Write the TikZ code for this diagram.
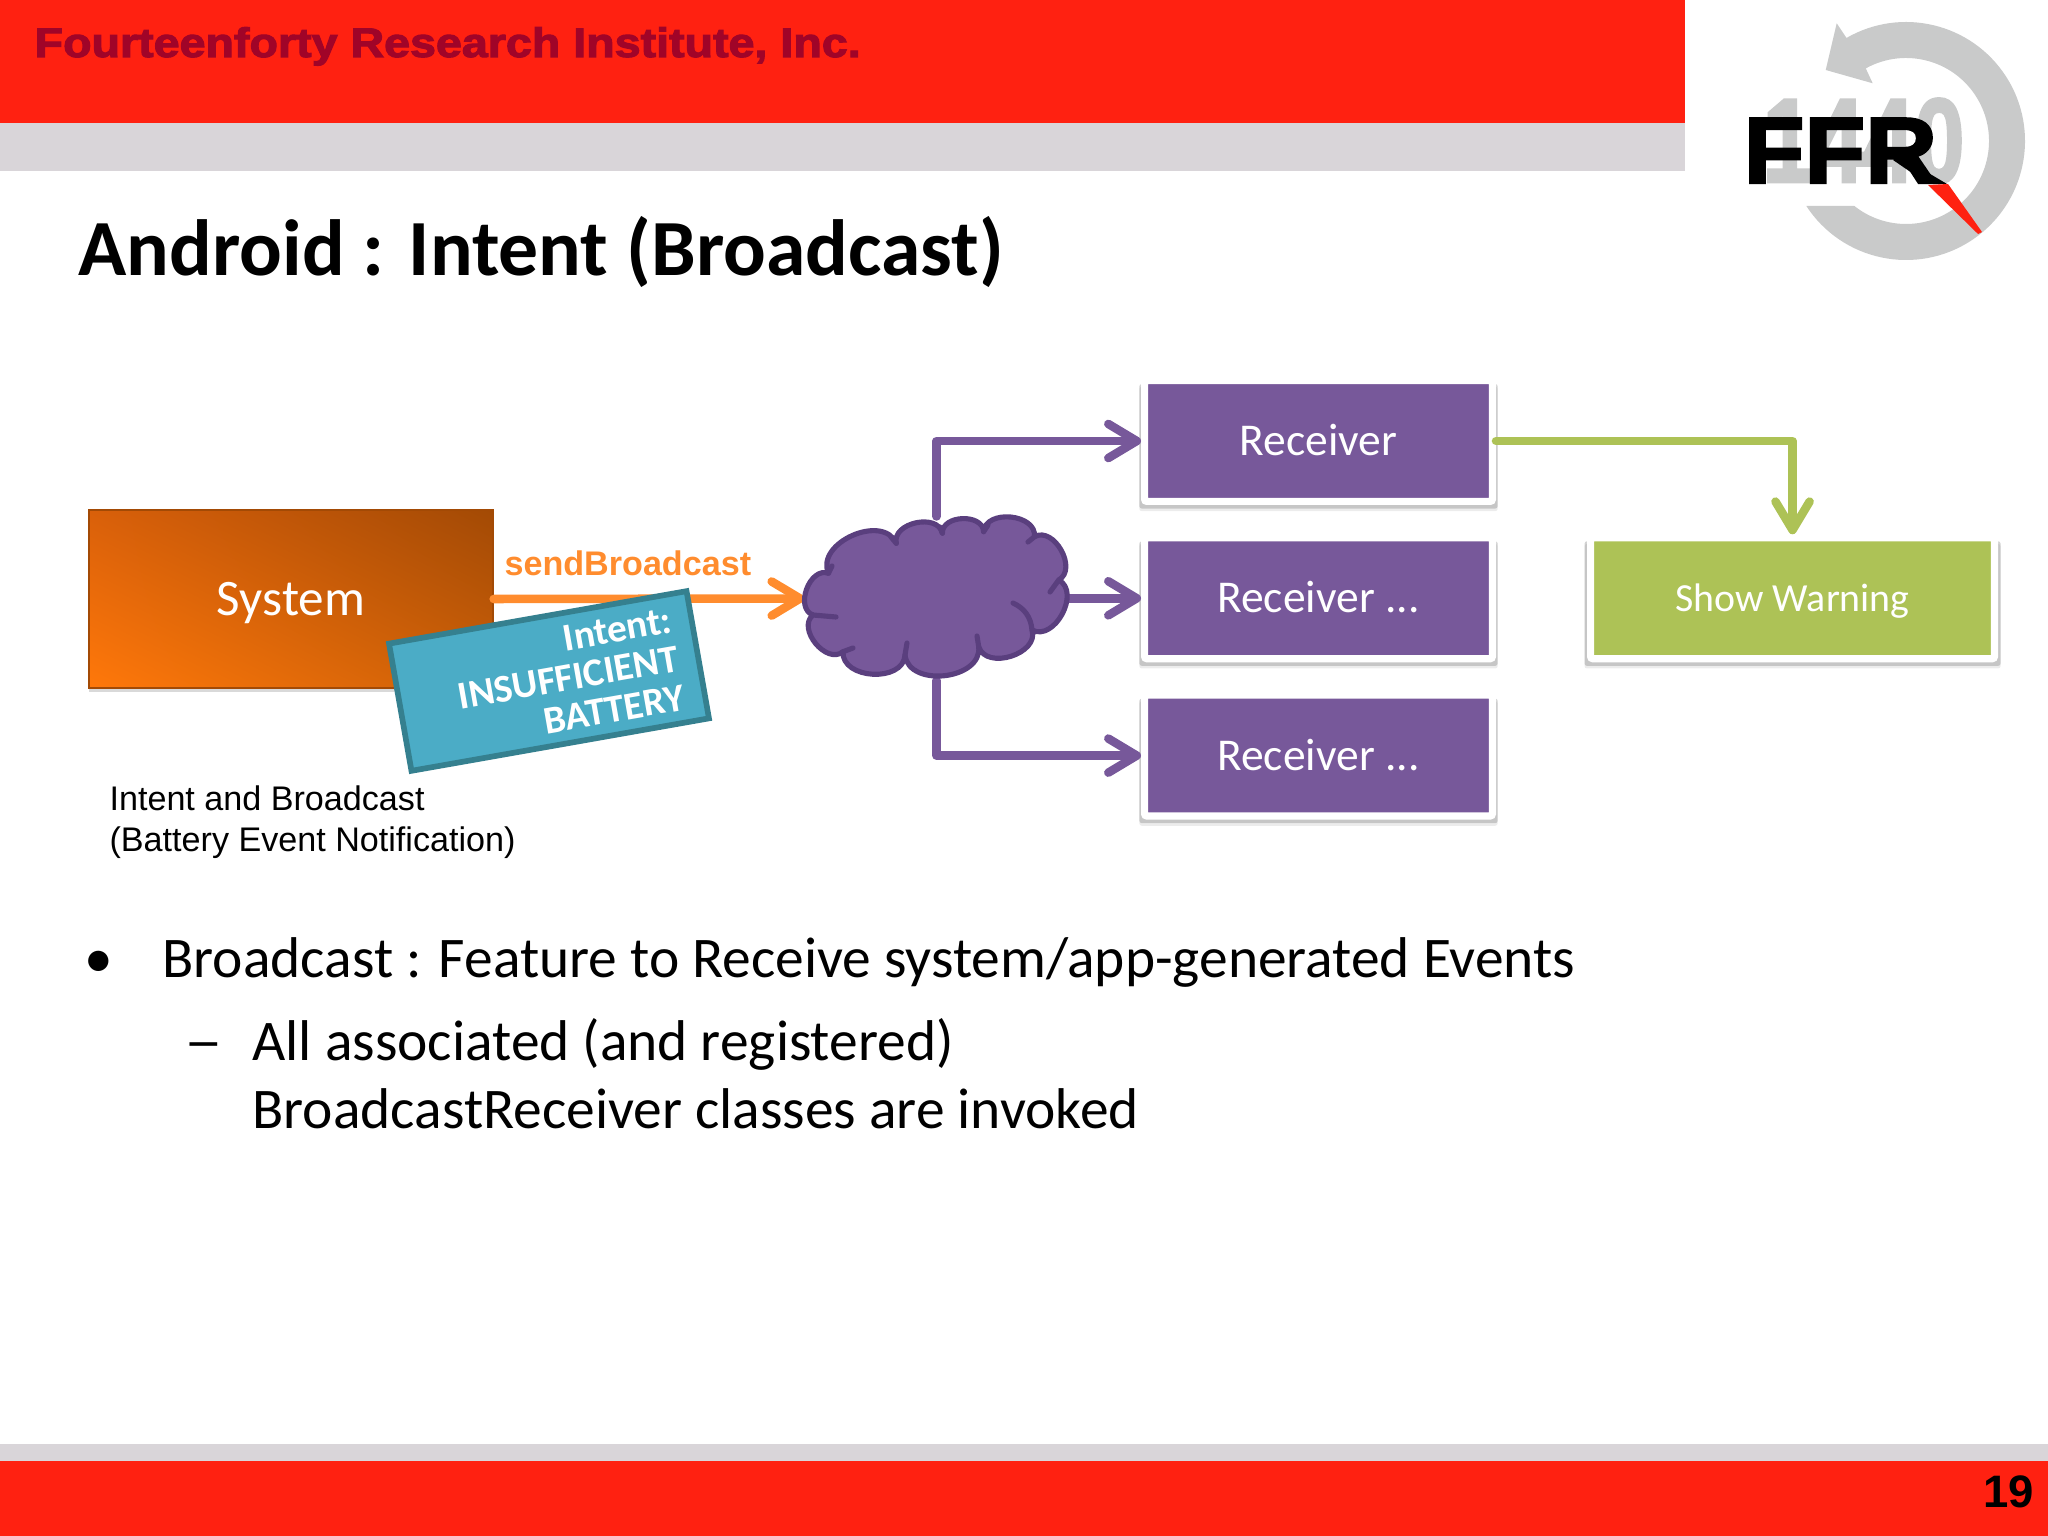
\documentclass[tikz,border=0pt]{standalone}
\usepackage{fontspec}
\setmainfont{Carlito}
\newfontfamily\arialfont{Liberation Sans}
\newfontfamily\heavyfont[FakeBold=2.5]{Liberation Sans Bold}
\usetikzlibrary{arrows.meta,positioning,calc,shadows,shadings}
\definecolor{barred}{HTML}{FF2111}
\definecolor{bargray}{HTML}{D9D5D9}
\definecolor{headred}{HTML}{A00428}
\definecolor{viola}{HTML}{77589A}
\definecolor{violadark}{HTML}{5A3F7E}
\definecolor{verde}{HTML}{ADC256}
\definecolor{arancio}{HTML}{FF8C2E}
\definecolor{azzurro}{HTML}{4BACC6}
\definecolor{azzurrodark}{HTML}{35808F}
\definecolor{logogray}{HTML}{C9CACA}
\definecolor{sysul}{HTML}{D9600A}
\definecolor{sysur}{HTML}{A34A05}
\definecolor{sysll}{HTML}{FF780A}
\definecolor{syslr}{HTML}{CC6008}
\tikzset{main base/.style={text centered,text=white}, }
\tikzset{main card/.style={main base,rectangle,draw=white,line width=2.5pt,font=\fontsize{16}{19}\selectfont,
    minimum width=122.3pt,minimum height=42.5pt,text height=10.3pt,text depth=0pt,rounded corners=.8pt,
    drop shadow={shadow scale=1.03,shadow xshift=0pt,shadow yshift=-2.7pt,opacity=.15},
    drop shadow={shadow scale=1.03,shadow xshift=0pt,shadow yshift=-1.8pt,opacity=.35}}, }
\tikzset{main recv/.style={main card,fill=viola}, }
\tikzset{main warn/.style={main card,fill=verde,minimum width=142pt,text height=9pt,font=\fontsize{14}{17}\selectfont}, }
\tikzset{main sys/.style={main base,rectangle,draw=sysur,line width=.5pt,
    minimum width=142pt,minimum height=62.6pt,font=\fontsize{18}{22}\selectfont,text height=11.6pt,text depth=0pt,
    upper left=sysul,upper right=sysur,lower left=sysll,lower right=syslr,
    drop shadow={shadow xshift=0pt,shadow yshift=-1.4pt,opacity=.3}}, }
\tikzset{main intent/.style={main base,rectangle,fill=azzurro,draw=azzurrodark,line width=2pt,rotate=10,
    minimum width=106.2pt,minimum height=45.4pt,align=right,text width=92pt,
    font=\bfseries\fontsize{13.8}{13.8}\selectfont}, }
\tikzset{main cloud/.style={minimum width=92.5pt,minimum height=57.3pt,inner sep=0pt}, }
\tikzset{puff/.style={bend left=90,looseness=1.15}}
\tikzset{linea/.style={line width=3pt,line cap=round,line join=round,
    -{Straight Barb[length=10pt,width=12pt,round]}}}
\tikzset{linea viola/.style={linea,draw=viola}}
\tikzset{linea verde/.style={linea,draw=verde}}
\tikzset{linea arancio/.style={linea,draw=arancio}}
\tikzset{main plain/.style={anchor=base west,inner sep=0pt,text=black}, }
\begin{document}
\begin{tikzpicture}[x=0.3515625pt,y=-0.3515625pt]
 \useasboundingbox (0,0) rectangle (2048,1536);
 % bars
 \fill[barred] (0,0) rectangle (1685,123);
 \fill[bargray] (0,123) rectangle (1685,171);
 \fill[bargray] (0,1444) rectangle (2048,1461);
 \fill[barred] (0,1461) rectangle (2048,1536);
 % logo
 \fill[logogray] ([shift={(146.9:119)}]1906,141) arc[start angle=146.9,end angle=-120,radius=119]
   -- (1836.7,23.3) -- (1825.7,70) -- (1872.7,83.3) -- ([shift={(-119:83)}]1906,141)
   arc[start angle=-119,end angle=128.5,radius=83] -- cycle;
 \node[main plain,text=logogray,font=\heavyfont\fontsize{42}{42}\selectfont,xscale=.76] (l1) at (1762,182) {1440};
 \node[main plain,font=\heavyfont\fontsize{33}{33}\selectfont,xscale=1.06] (l2) at (1743,183) {FFR};
 \fill[black] (1898,155) -- (1947,184) -- (1928,184) -- (1893,160) -- cycle;
 \fill[barred] (1928,185) -- (1948,184) -- (1982,232) -- (1978,234) -- cycle;
 % texts
 \node[main plain,text=headred,font=\heavyfont\fontsize{14.5}{18}\selectfont,xscale=1.13] (h) at (34,57) {Fourteenforty Research Institute, Inc.};
 \node[main plain,font=\bfseries\fontsize{28}{34}\selectfont] (t) at (78,276) {Android : Intent (Broadcast)};
 \node[main plain,font=\arialfont\bfseries\fontsize{16}{18}\selectfont] (n) at (1983,1507) {19};
 \node[main plain,font=\fontsize{20.2}{24}\selectfont] (b1) at (162,977) {Broadcast : Feature to Receive system/app-generated Events};
 \node[main plain,font=\fontsize{20.2}{24}\selectfont] (d1) at (84,977) {\textbullet};
 \node[main plain,font=\fontsize{20.2}{24}\selectfont] (b2) at (252,1060) {All associated (and registered)};
 \node[main plain,font=\fontsize{20.2}{24}\selectfont,xscale=1.35] (d2) at (184,1060) {--};
 \node[main plain,font=\fontsize{20.2}{24}\selectfont] (b3) at (252,1128) {BroadcastReceiver classes are invoked};
 % diagram
 \node[main sys] (1) at (291,599) {System};
 \node[main recv] (5) at (1318.5,441) {Receiver};
 \node[main recv] (6) [below=10.3pt of 5] {Receiver ...};
 \node[main recv] (7) [below=10.3pt of 6] {Receiver ...};
 \node[main warn] (8) [right=32pt of 6] {Show Warning};
 \node[main cloud] (4) at (936.5,598.5) {};

 \foreach \x /\y in{4.north/5.west,4.east/6.west,4.south/7.west}
   \draw[linea viola] (\x) |- (\y);
 \draw[linea verde] (5.east) -| (8.north);
 \draw[linea arancio] (1.east) -- (4.west);

 % cloud over the line ends
 \draw[fill=viola,draw=violadark,line width=1.8pt,line join=round]
   (828.5,573.3) to[puff] (896.3,543.3) to[puff] (942.4,533.3) to[puff] (983.6,531.7)
   to[puff] (1034.5,536.7) to[puff] (1058.7,580) to[puff] (1032,630) to[puff] (978.7,646.7)
   to[puff] (905,655) to[puff] (843,651.7) to[puff] (813,615) to[puff] cycle;
 \draw[violadark,line width=1.8pt,line cap=round]
   (1032,630) to[bend right=30] (1013,603)
   (1058.7,580) -- (1050,592)
   (813,615) -- (836,617)
   (843,651.7) -- (853,648)
   (905,655) -- (907,643)
   (978.7,646.7) -- (977,636)
   (983.6,531.7) -- (988,525)
   (942.4,533.3) -- (940,527)
   (896.3,543.3) -- (891,537)
   (1034.5,536.7) -- (1028,542)
   (828.5,573.3) -- (832,566);

 \node[main plain,text=arancio,font=\arialfont\bfseries\fontsize{12}{14}\selectfont] (2) at (504,576) {sendBroadcast};
 \node[main intent] (3) at (549,681) {Intent:\\INSUFFICIENT\\BATTERY};
 \node[main plain,align=left,font=\arialfont\fontsize{12}{14.4}\selectfont] (9) at (109,851) {Intent and Broadcast\\(Battery Event Notification)};
\end{tikzpicture}
\end{document}
